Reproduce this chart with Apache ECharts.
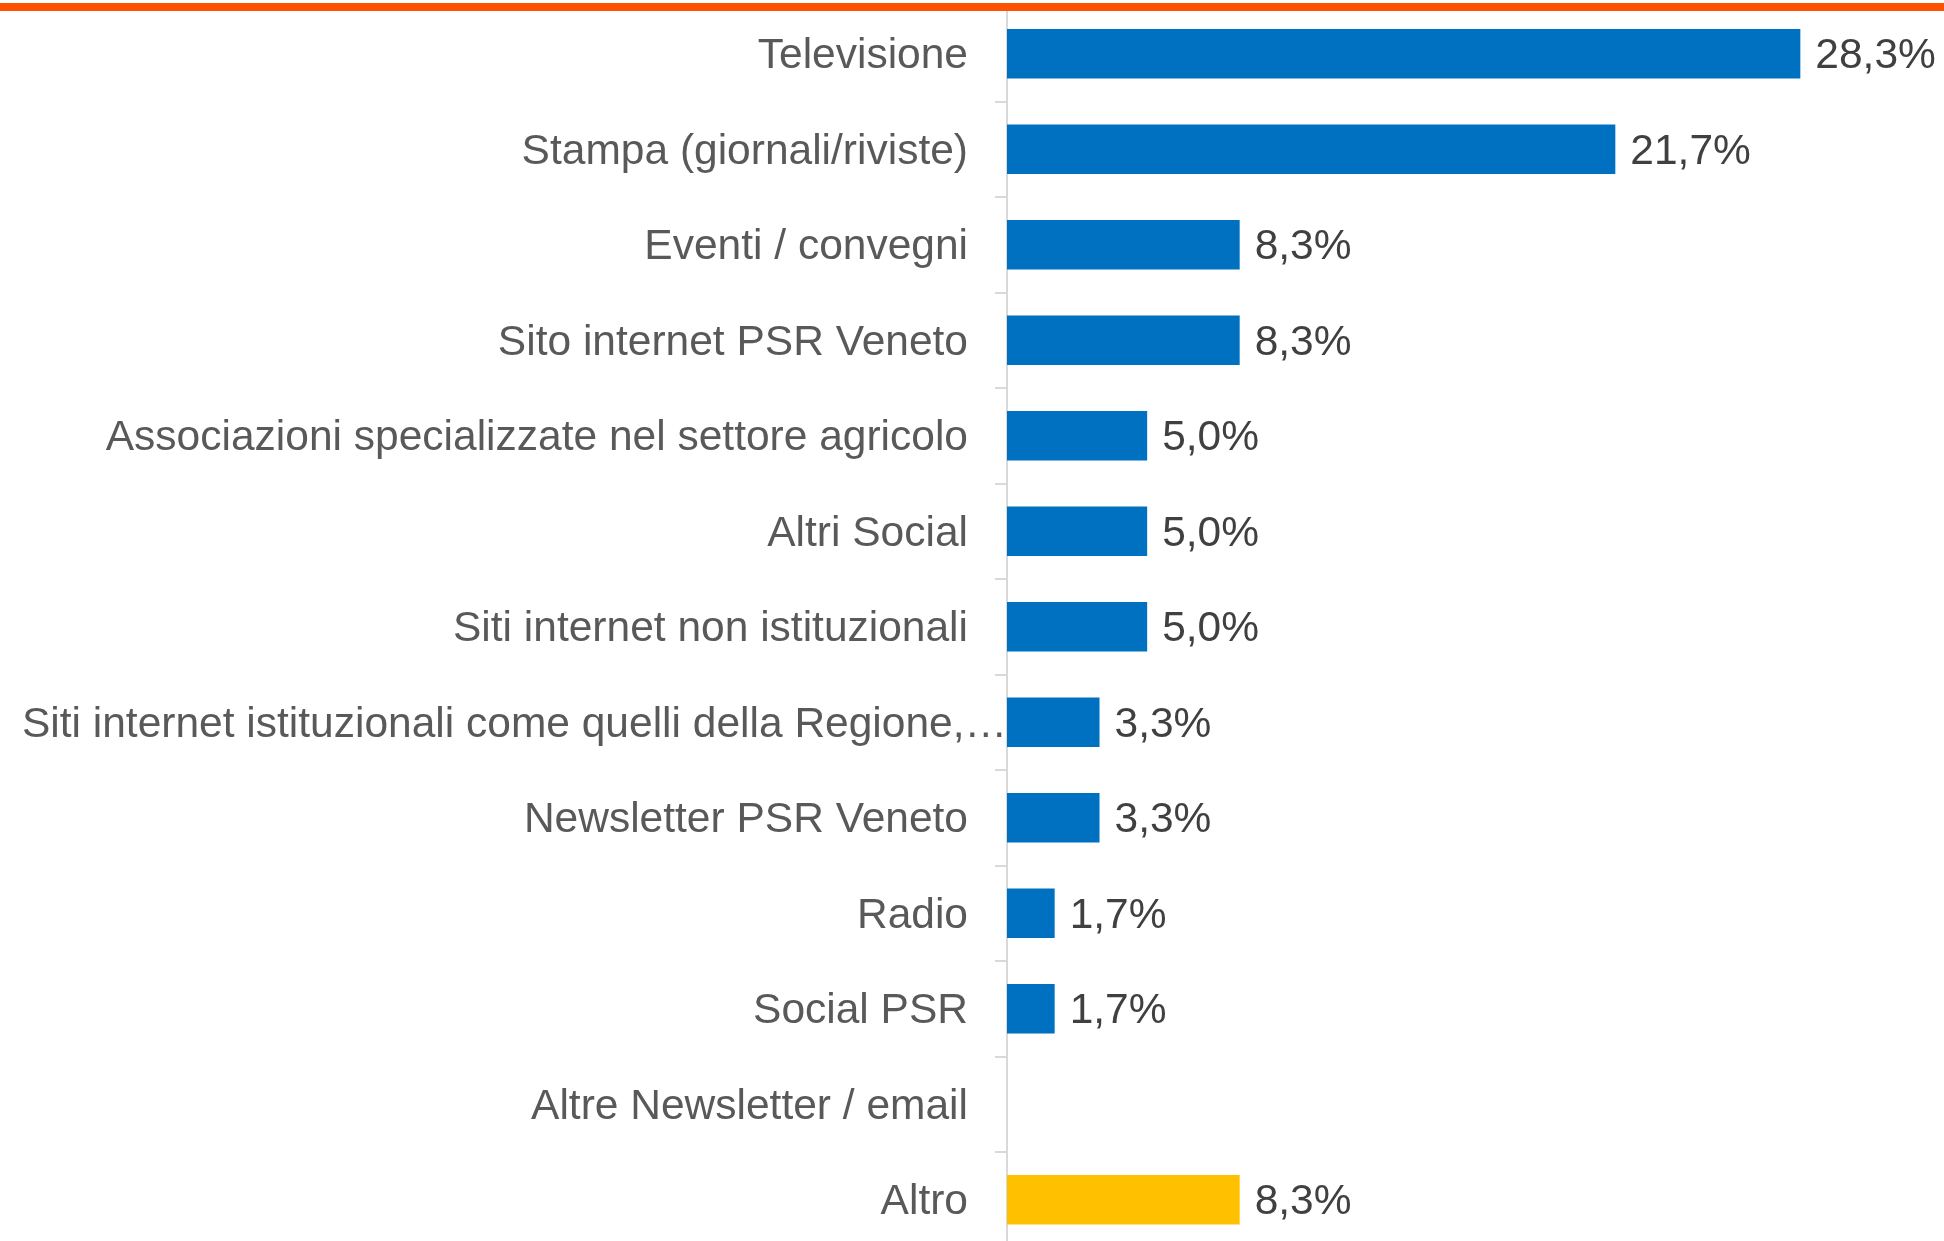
<!DOCTYPE html>
<html>
<head>
<meta charset="utf-8">
<script src="https://cdn.jsdelivr.net/npm/echarts@6/dist/echarts.min.js"></script>
<style>
html,body{margin:0;padding:0;background:#fff;overflow:hidden;}
#chart{width:1944px;height:1260px;}
</style>
</head>
<body>
<div id="chart"></div>
<script>
const categories = [
  'Televisione',
  'Stampa (giornali/riviste)',
  'Eventi / convegni',
  'Sito internet PSR Veneto',
  'Associazioni specializzate nel settore agricolo',
  'Altri Social',
  'Siti internet non istituzionali',
  'Siti internet istituzionali come quelli della Regione,…',
  'Newsletter PSR Veneto',
  'Radio',
  'Social PSR',
  'Altre Newsletter / email',
  'Altro'
];
const values = [28.3, 21.7, 8.3, 8.3, 5.0, 5.0, 5.0, 3.3, 3.3, 1.7, 1.7, null, 8.3];
const barColors = ['#0070C0','#0070C0','#0070C0','#0070C0','#0070C0','#0070C0','#0070C0','#0070C0','#0070C0','#0070C0','#0070C0','#0070C0','#FFC000'];
const longLabel = 'Siti internet istituzionali come quelli della Regione,…';

const chart = echarts.init(document.getElementById('chart'));
const FONT = "'Liberation Sans', Arial, sans-serif";
chart.setOption({
  animation: false,
  backgroundColor: '#ffffff',
  graphic: [{
    type: 'rect',
    left: 0, top: 3,
    shape: { width: 1944, height: 8 },
    style: { fill: '#FF5200' },
    z: 10
  }],
  grid: { left: 1007, right: 96, top: 6, height: 1241.5, containLabel: false },
  xAxis: {
    type: 'value', min: 0, max: 30, show: false,
    splitLine: { show: false }
  },
  yAxis: {
    type: 'category',
    data: categories,
    inverse: true,
    axisLine: { show: true, lineStyle: { color: '#D9D9D9', width: 2 } },
    axisTick: { show: true, length: 12, lineStyle: { color: '#D9D9D9', width: 2 } },
    axisLabel: {
      margin: 0,
      fontFamily: FONT,
      fontSize: 42.5,
      color: '#595959',
      formatter: function (v) {
        return v === longLabel ? '{t|' + v + '}' : '{t|' + v + '}{s|}';
      },
      rich: {
        t: { fontFamily: FONT, fontSize: 42.5, color: '#595959', padding: [6, 0, 0, 0] },
        s: { width: 39 }
      }
    }
  },
  series: [{
    type: 'bar',
    data: values.map((v, i) => ({ value: v, itemStyle: { color: barColors[i] } })),
    barCategoryGap: '48%',
    label: {
      show: true,
      position: 'right',
      distance: 15,
      offset: [0, 3],
      fontFamily: FONT,
      fontSize: 42.5,
      color: '#404040',
      formatter: p => p.value == null ? '' : p.value.toFixed(1).replace('.', ',') + '%'
    }
  }]
});
</script>
</body>
</html>
